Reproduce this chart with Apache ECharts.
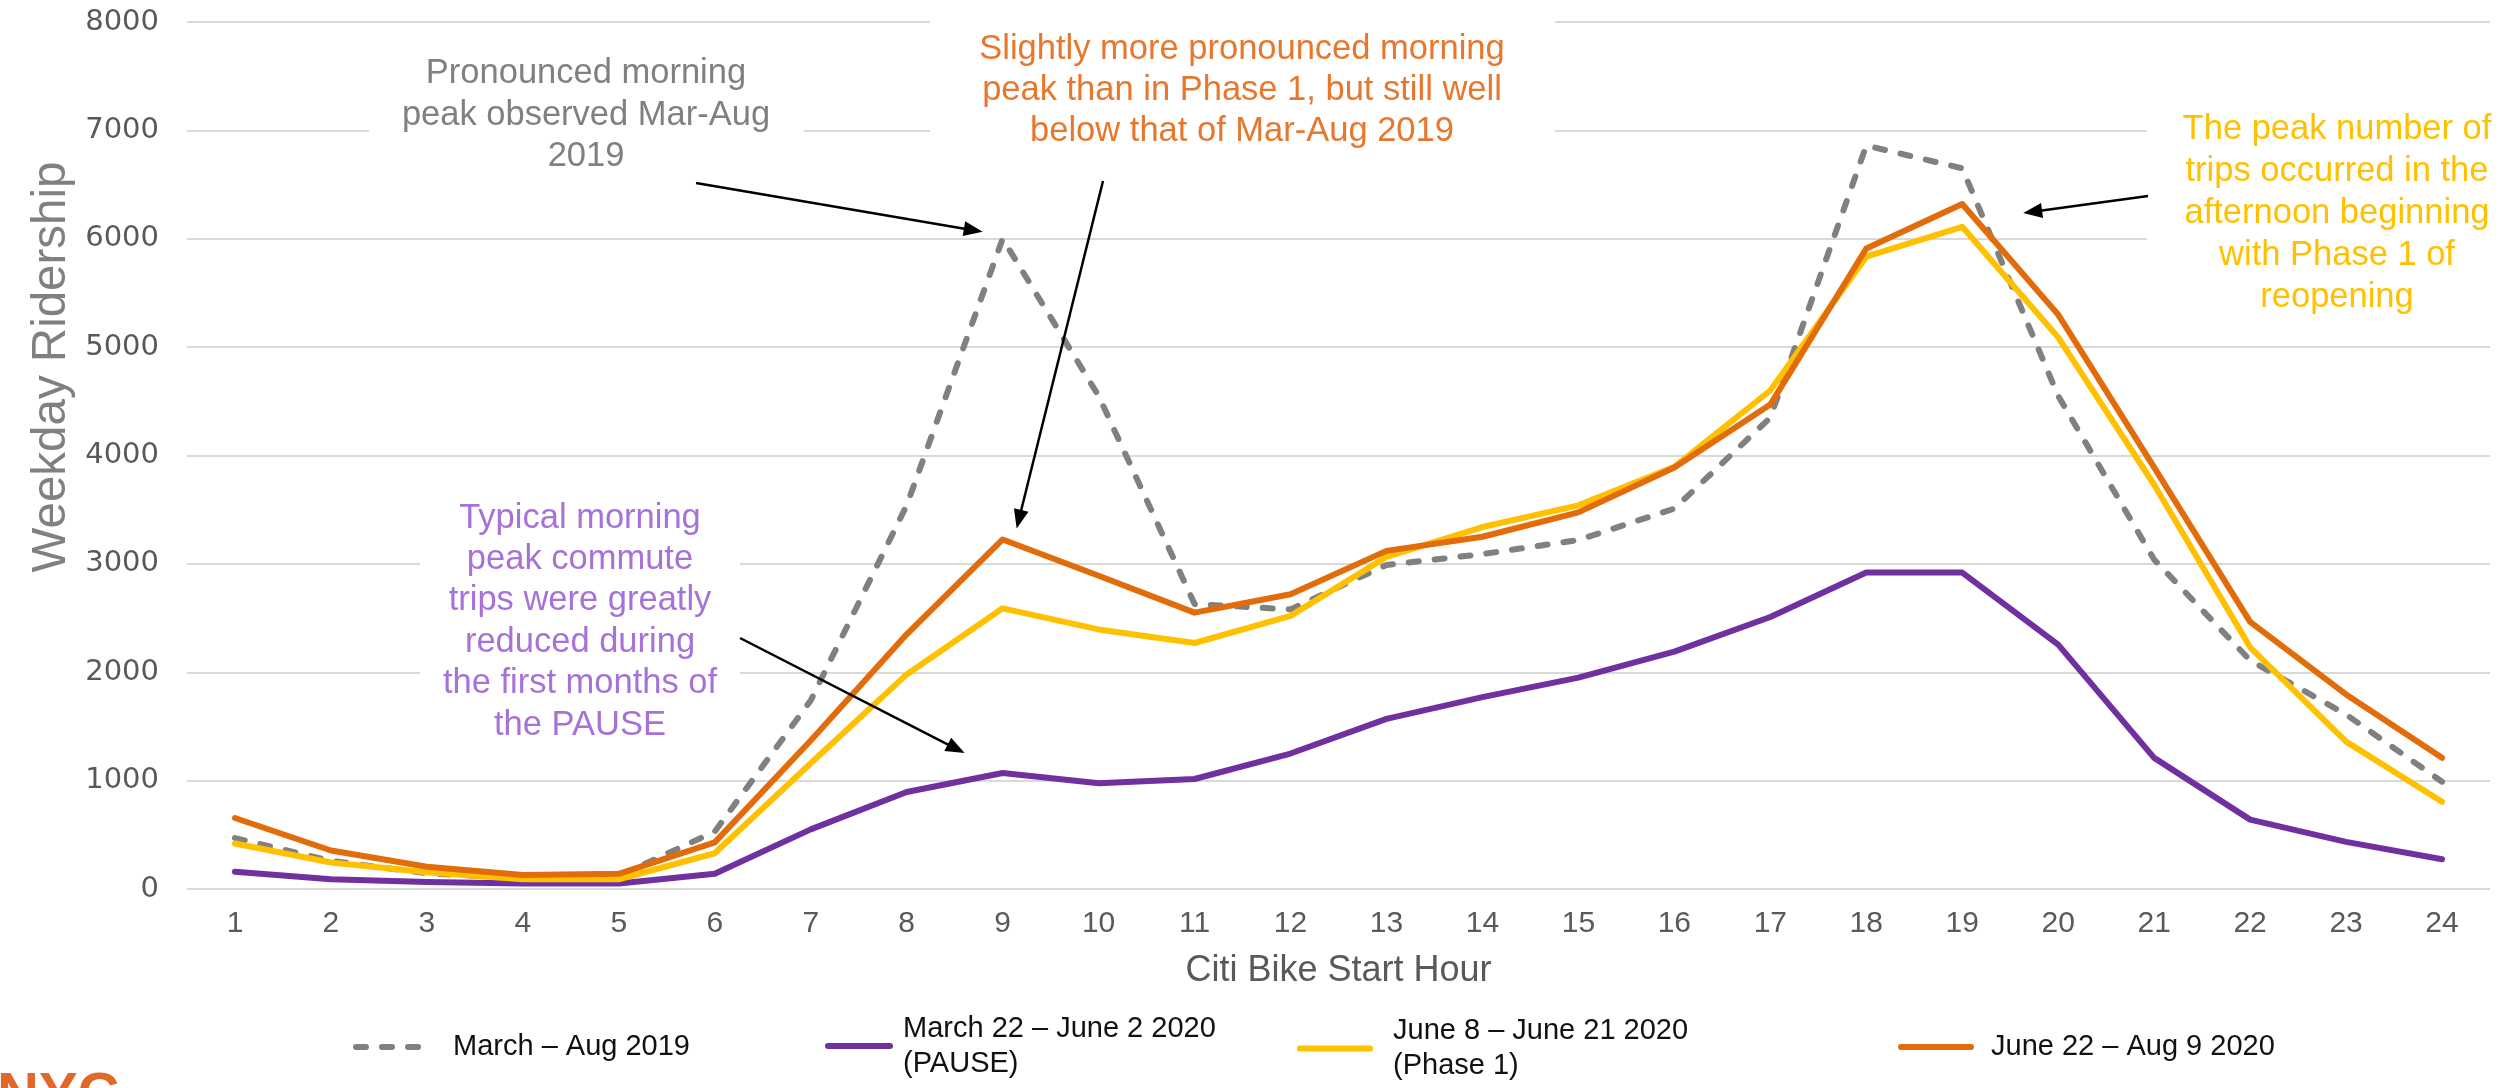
<!DOCTYPE html>
<html>
<head>
<meta charset="utf-8">
<title>Citi Bike Weekday Ridership by Start Hour</title>
<script src="https://cdn.jsdelivr.net/npm/echarts@6/dist/echarts.min.js"></script>
<style>
  html, body { margin: 0; padding: 0; background: #ffffff; }
  #chart { width: 2507px; height: 1088px; }
</style>
</head>
<body>
<div id="chart"></div>
<script>
// ---- Data -------------------------------------------------------------
const hours = ['1','2','3','4','5','6','7','8','9','10','11','12',
               '13','14','15','16','17','18','19','20','21','22','23','24'];

const yTicks = [0, 1000, 2000, 3000, 4000, 5000, 6000, 7000, 8000];

const ridership2019 = [470, 260, 145, 100, 120, 530, 1740, 3540, 6000, 4550, 2630, 2580,
                       2990, 3090, 3220, 3510, 4350, 6860, 6650, 4550, 3040, 2110, 1610, 990];

const ridershipPause = [160, 90, 65, 50, 50, 140, 550, 895, 1070, 975, 1015, 1250,
                        1570, 1770, 1950, 2190, 2510, 2920, 2920, 2255, 1210, 640, 435, 275];

const ridershipPhase1 = [420, 245, 155, 90, 90, 330, 1160, 1980, 2590, 2395, 2270, 2520,
                         3065, 3340, 3540, 3895, 4600, 5835, 6110, 5090, 3730, 2230, 1360, 805];

const ridershipSummer = [655, 355, 205, 130, 140, 430, 1370, 2350, 3225, 2890, 2550, 2720,
                         3120, 3250, 3475, 3890, 4470, 5910, 6320, 5300, 3890, 2465, 1795, 1210];

const seriesNames = [
  'March – Aug 2019',
  'March 22 – June 2 2020\n(PAUSE)',
  'June 8 – June 21 2020\n(Phase 1)',
  'June 22 – Aug 9 2020'
];

// ---- Styling ----------------------------------------------------------
const FONT = '"Liberation Sans", Arial, Helvetica, sans-serif';
const TICK_FONT = '"DejaVu Sans", Verdana, sans-serif';
const C_GRAY = '#808080';
const C_PURPLE = '#7030A0';
const C_YELLOW = '#FFC000';
const C_ORANGE = '#E26B0A';

const chart = echarts.init(document.getElementById('chart'), null, { renderer: 'canvas' });

function lineSeries(name, data, color, dashed) {
  return {
    name: name,
    type: 'line',
    data: data,
    symbol: 'none',
    showSymbol: false,
    smooth: false,
    lineStyle: {
      color: color,
      width: 6,
      type: dashed ? [10, 16] : 'solid',
      cap: 'round',
      join: 'round'
    },
    itemStyle: { color: color },
    emphasis: { disabled: true },
    z: 3
  };
}

function legendFor(name, left, top, itemWidth, padding) {
  return {
    data: [name],
    left: left,
    top: top,
    itemWidth: itemWidth,
    itemHeight: 14,
    selectedMode: false,
    itemStyle: { opacity: 0, borderWidth: 0 },
    lineStyle: { width: 6 },
    textStyle: {
      fontFamily: FONT,
      fontSize: 29,
      color: '#111111',
      lineHeight: name.indexOf('\n') >= 0 ? 35 : 36,
      padding: padding
    }
  };
}

const option = {
  animation: false,
  backgroundColor: '#ffffff',
  textStyle: { fontFamily: FONT },
  grid: { left: 187, right: 17, top: 22, bottom: 199, containLabel: false },
  xAxis: {
    type: 'category',
    data: hours,
    boundaryGap: true,
    name: 'Citi Bike Start Hour',
    nameLocation: 'middle',
    nameGap: 64,
    nameTextStyle: { fontFamily: FONT, fontSize: 36, color: '#595959' },
    axisLine: { show: false },
    axisTick: { show: false },
    axisLabel: { fontFamily: FONT, fontSize: 30, color: '#595959', margin: 20 },
    splitLine: { show: false }
  },
  yAxis: {
    type: 'value',
    min: yTicks[0],
    max: yTicks[yTicks.length - 1],
    interval: yTicks[1] - yTicks[0],
    axisLine: { show: false },
    axisTick: { show: false },
    axisLabel: {
      fontFamily: TICK_FONT, fontSize: 29, color: '#595959', margin: 28,
      formatter: function (v) { return String(v); }
    },
    splitLine: { show: true, lineStyle: { color: '#D9D9D9', width: 2 } }
  },
  legend: [
    legendFor(seriesNames[0], 348, 1024, 67, [0, 0, 0, 25]),
    legendFor(seriesNames[1], 820, 1002, 62, [8, 0, 0, 8]),
    legendFor(seriesNames[2], 1292, 992, 70, [33, 0, 0, 18]),
    legendFor(seriesNames[3], 1893, 1024, 70, [0, 0, 0, 15])
  ],
  series: [
    lineSeries(seriesNames[0], ridership2019, C_GRAY, true),
    lineSeries(seriesNames[1], ridershipPause, C_PURPLE, false),
    lineSeries(seriesNames[2], ridershipPhase1, C_YELLOW, false),
    lineSeries(seriesNames[3], ridershipSummer, C_ORANGE, false)
  ]
};

chart.setOption(option);

// ---- Annotations ------------------------------------------------------
// Pixel position of an hour/value pair on the chart's axes.
function at(hourIndex, value) {
  return chart.convertToPixel({ xAxisIndex: 0, yAxisIndex: 0 }, [hourIndex, value]);
}

function arrow(tail, tip) {
  const dx = tip[0] - tail[0], dy = tip[1] - tail[1];
  const len = Math.sqrt(dx * dx + dy * dy);
  const ux = dx / len, uy = dy / len;
  const headLen = 19, headHalf = 7.5;
  const bx = tip[0] - ux * headLen, by = tip[1] - uy * headLen;
  return [
    {
      type: 'line', z: 20, silent: true,
      shape: { x1: tail[0], y1: tail[1], x2: bx + ux * 2, y2: by + uy * 2 },
      style: { stroke: '#000000', lineWidth: 2.5 }
    },
    {
      type: 'polygon', z: 20, silent: true,
      shape: { points: [
        [tip[0], tip[1]],
        [bx - uy * headHalf, by + ux * headHalf],
        [bx + uy * headHalf, by - ux * headHalf]
      ] },
      style: { fill: '#000000' }
    }
  ];
}

function note(text, cx, cy, color, lineHeight) {
  return {
    type: 'text', z: 20, silent: true,
    style: {
      text: text, x: cx, y: cy,
      fill: color,
      fontFamily: FONT, fontSize: 34.5,
      lineHeight: lineHeight,
      align: 'center', verticalAlign: 'middle'
    }
  };
}

function whiteBox(x, y, w, h) {
  return {
    type: 'rect', z: 1, silent: true,
    shape: { x: x, y: y, width: w, height: h },
    style: { fill: '#ffffff' }
  };
}

function offset(p, dx, dy) { return [p[0] + dx, p[1] + dy]; }

const grayTip = offset(at(8, ridership2019[8]), -20, -7);
const orangeTip = offset(at(8, ridershipSummer[8]), 14, -11);
const purpleTip = offset(at(8, ridershipPause[8]), -38, -20);
const yellowTip = offset(at(18, ridershipSummer[18]), 61, 9);

const graphics = [
  // text panels that sit over the gridlines
  whiteBox(369, 45, 435, 138),
  whiteBox(930, 0, 625, 178),
  whiteBox(420, 495, 320, 255),
  whiteBox(2147, 100, 360, 230),

  note('Pronounced morning\npeak observed Mar-Aug\n2019', 586, 115, '#808080', 41.5),
  note('Slightly more pronounced morning\npeak than in Phase 1, but still well\nbelow that of Mar-Aug 2019',
       1242, 90, '#E8772E', 41),
  note('Typical morning\npeak commute\ntrips were greatly\nreduced during\nthe first months of\nthe PAUSE',
       580, 621.5, '#A672D8', 41.4),
  note('The peak number of\ntrips occurred in the\nafternoon beginning\nwith Phase 1 of\nreopening',
       2337, 213, '#FFC000', 42),

  // y-axis title
  {
    type: 'text', z: 20, silent: true,
    x: 52, y: 367, rotation: Math.PI / 2,
    style: {
      text: 'Weekday Ridership', x: 0, y: 0,
      fill: '#808080', fontFamily: FONT, fontSize: 47.5,
      align: 'center', verticalAlign: 'middle'
    }
  },

  // agency mark in the bottom-left corner
  {
    type: 'text', z: 20, silent: true,
    style: {
      text: 'NYC', x: -3, y: 1068,
      fill: '#E0692A', fontFamily: FONT, fontSize: 58, fontWeight: 900,
      align: 'left', verticalAlign: 'top'
    }
  }
]
  .concat(arrow([696, 183], grayTip))
  .concat(arrow([1103, 181], orangeTip))
  .concat(arrow([740, 638], purpleTip))
  .concat(arrow([2148, 196], yellowTip));

chart.setOption({ graphic: { elements: graphics } });
</script>
</body>
</html>
